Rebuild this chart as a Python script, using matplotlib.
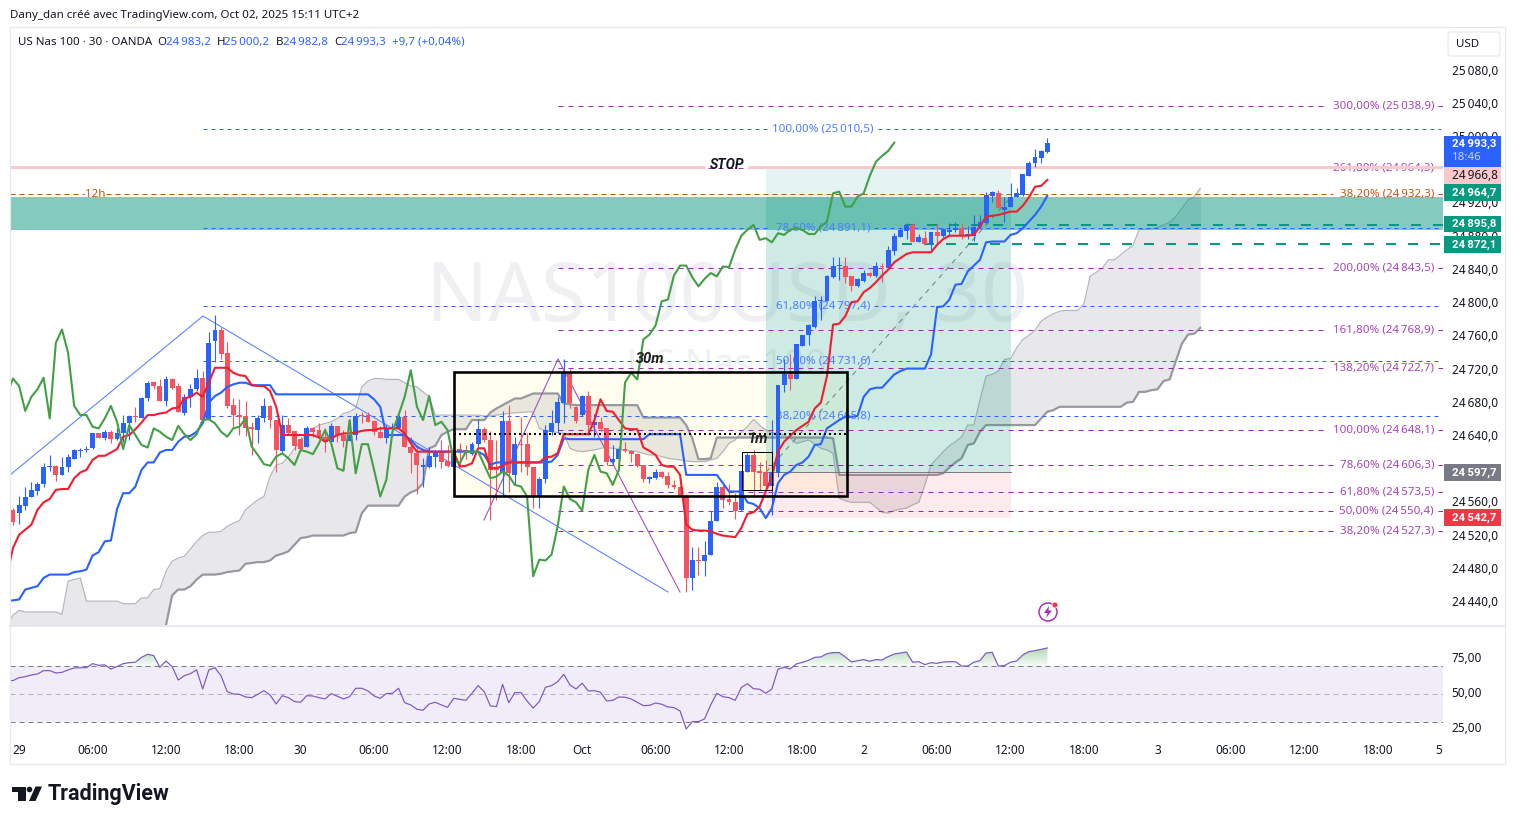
import numpy as np
import matplotlib
matplotlib.use('Agg')
import matplotlib.pyplot as plt
import matplotlib.transforms as mtrans
from matplotlib.patches import Rectangle, Circle, Polygon, FancyBboxPatch

plt.rcParams['font.family'] = ['Noto Sans', 'DejaVu Sans']
plt.rcParams['lines.scale_dashes'] = False

# 30 min candles
opens = [24550,24546,24555,24565,24573,24581,24601,24603,24592,24601,
         24611,24621,24622,24624,24642,24637,24644,24635,24642,24654,
         24663,24661,24684,24704,24699,24681,24708,24699,24667,24686,
         24695,24709,24658,24753,24767,24739,24676,24664,24663,24650,
         24646,24660,24675,24658,24621,24652,24645,24635,24625,24648,
         24646,24638,24632,24651,24640,24633,24640,24664,24664,24657,
         24644,24636,24648,24649,24662,24626,24618,24602,24602,24614,
         24620,24609,24602,24623,24622,24617,24629,24647,24634,24601,
         24594,24657,24592,24629,24629,24601,24566,24587,24644,24655,
         24679,24716,24674,24664,24687,24652,24656,24648,24607,24611,
         24623,24621,24617,24604,24587,24588,24596,24591,24580,24578,
         24566,24468,24490,24488,24495,24536,24577,24563,24559,24550,
         24596,24616,24597,24596,24579,24594,24700,24714,24707,24747,
         24760,24770,24801,24801,24830,24843,24843,24831,24819,24825,
         24835,24831,24843,24841,24862,24879,24886,24893,24873,24877,
         24870,24884,24880,24885,24887,24889,24881,24880,24890,24895,
         24928,24931,24911,24914,24927,24929,24952,24968,24974,24981]
highs = [24552,24566,24578,24584,24584,24606,24616,24604,24613,24617,
         24623,24624,24627,24643,24643,24646,24646,24648,24664,24664,
         24674,24686,24705,24705,24707,24711,24709,24703,24689,24701,
         24719,24717,24764,24784,24770,24752,24684,24683,24681,24656,
         24664,24684,24676,24658,24664,24660,24645,24638,24651,24650,
         24655,24648,24654,24651,24646,24658,24666,24668,24668,24658,
         24651,24652,24654,24664,24670,24638,24628,24612,24626,24622,
         24634,24628,24627,24631,24628,24632,24659,24650,24645,24634,
         24669,24676,24638,24662,24642,24602,24590,24652,24670,24686,
         24732,24720,24675,24688,24693,24665,24662,24649,24628,24626,
         24632,24622,24618,24604,24591,24599,24597,24596,24586,24579,
         24569,24505,24505,24512,24548,24583,24580,24581,24570,24597,
         24618,24622,24608,24610,24658,24700,24731,24737,24749,24761,
         24774,24807,24807,24833,24854,24854,24854,24832,24829,24839,
         24836,24848,24847,24867,24883,24889,24895,24895,24882,24886,
         24885,24895,24889,24895,24896,24895,24892,24905,24905,24932,
         24934,24935,24927,24943,24937,24954,24970,24984,24983,24998]
lows = [24532,24533,24550,24565,24568,24578,24597,24585,24592,24596,
        24611,24614,24619,24623,24637,24634,24630,24634,24632,24634,
        24656,24661,24681,24695,24681,24675,24695,24668,24664,24674,
        24693,24658,24658,24728,24732,24672,24650,24640,24639,24616,
        24630,24656,24649,24596,24617,24640,24622,24622,24625,24638,
        24636,24620,24632,24632,24625,24633,24634,24654,24656,24640,
        24636,24631,24638,24648,24625,24594,24569,24578,24600,24602,
        24600,24602,24589,24602,24611,24616,24626,24632,24538,24562,
        24568,24572,24580,24596,24592,24552,24552,24582,24640,24642,
        24655,24672,24654,24663,24640,24638,24645,24604,24604,24609,
        24619,24607,24602,24583,24582,24587,24588,24576,24575,24566,
        24451,24454,24472,24470,24495,24536,24552,24556,24539,24549,
        24596,24566,24574,24576,24544,24590,24692,24694,24707,24747,
        24748,24769,24779,24801,24829,24827,24823,24813,24818,24824,
        24830,24830,24824,24841,24857,24879,24876,24873,24872,24869,
        24863,24870,24878,24880,24885,24876,24876,24874,24890,24895,
        24920,24913,24896,24914,24927,24928,24952,24963,24968,24980]
closes = [24535,24556,24565,24574,24581,24601,24602,24592,24601,24613,
          24622,24622,24623,24642,24637,24644,24635,24642,24654,24663,
          24662,24685,24703,24699,24681,24707,24697,24668,24686,24695,
          24709,24658,24751,24767,24737,24675,24664,24662,24649,24647,
          24660,24675,24658,24622,24652,24643,24627,24623,24649,24644,
          24637,24632,24651,24640,24633,24640,24663,24663,24656,24644,
          24637,24648,24649,24662,24625,24618,24604,24603,24615,24620,
          24608,24603,24621,24619,24621,24629,24647,24634,24598,24598,
          24657,24594,24629,24628,24601,24566,24587,24646,24655,24680,
          24716,24679,24657,24687,24652,24656,24647,24607,24611,24623,
          24621,24617,24603,24587,24589,24596,24590,24580,24577,24566,
          24468,24490,24488,24496,24537,24577,24562,24559,24548,24597,
          24616,24595,24594,24579,24596,24700,24714,24707,24749,24761,
          24772,24801,24803,24832,24844,24844,24830,24819,24828,24835,
          24831,24843,24842,24863,24880,24887,24893,24873,24878,24870,
          24884,24880,24888,24886,24889,24880,24882,24891,24896,24929,
          24933,24913,24915,24927,24931,24954,24968,24975,24982,24991]

# ichimoku lines, these start one bar left of the first visible candle
tenkan = [24470,
          24504,24520,24526,24532,24550,24559,24563,24574,24575,24575,
          24588,24595,24598,24610,24615,24615,24619,24623,24638,24640,
          24647,24655,24664,24664,24666,24667,24672,24673,24684,24686,
          24691,24686,24703,24721,24721,24721,24715,24712,24711,24700,
          24699,24699,24693,24674,24640,24640,24640,24640,24640,24640,
          24637,24632,24636,24640,24642,24642,24643,24645,24646,24646,
          24648,24648,24648,24648,24642,24630,24620,24620,24620,24620,
          24620,24620,24620,24602,24603,24606,24624,24624,24600,24600,
          24603,24607,24607,24607,24607,24607,24607,24613,24614,24618,
          24641,24641,24641,24641,24641,24658,24683,24669,24668,24658,
          24648,24647,24647,24625,24621,24616,24604,24602,24602,24592,
          24532,24526,24525,24525,24524,24521,24519,24518,24517,24528,
          24545,24547,24554,24572,24590,24620,24632,24639,24646,24651,
          24656,24672,24679,24711,24773,24774,24783,24800,24801,24812,
          24817,24824,24832,24839,24848,24853,24858,24860,24860,24860,
          24860,24869,24876,24880,24880,24880,24880,24881,24891,24903,
          24904,24905,24907,24909,24909,24916,24926,24939,24940,24947]
kijun = [24440,
         24441,24442,24454,24456,24458,24468,24472,24472,24472,24472,
         24475,24476,24478,24495,24499,24512,24513,24551,24570,24570,
         24578,24598,24607,24607,24619,24622,24622,24632,24638,24639,
         24644,24654,24679,24687,24691,24698,24701,24703,24703,24700,
         24700,24700,24700,24689,24689,24689,24689,24689,24689,24689,
         24689,24689,24689,24689,24689,24689,24689,24689,24689,24683,
         24674,24640,24640,24640,24640,24634,24626,24622,24620,24620,
         24620,24620,24620,24620,24620,24620,24620,24616,24604,24607,
         24607,24607,24607,24607,24607,24607,24607,24607,24608,24616,
         24636,24635,24635,24635,24635,24635,24635,24635,24635,24635,
         24635,24635,24635,24635,24641,24641,24641,24641,24641,24641,
         24592,24592,24592,24592,24592,24592,24582,24572,24572,24572,
         24559,24557,24552,24540,24552,24582,24592,24596,24604,24607,
         24614,24628,24629,24648,24653,24658,24662,24662,24663,24686,
         24695,24697,24697,24705,24713,24717,24720,24720,24720,24720,
         24737,24794,24795,24803,24821,24822,24837,24844,24851,24872,
         24873,24873,24873,24881,24883,24889,24897,24905,24915,24928]
chikou = [24690,
          24708,24699,24669,24686,24695,24709,24660,24751,24767,24739,
          24675,24664,24664,24650,24648,24660,24675,24656,24623,24652,
          24640,24628,24625,24648,24644,24638,24634,24651,24641,24634,
          24641,24658,24659,24654,24644,24638,24648,24650,24660,24626,
          24616,24605,24603,24614,24618,24612,24604,24622,24620,24617,
          24630,24646,24630,24600,24597,24658,24594,24629,24629,24598,
          24566,24586,24644,24664,24686,24718,24674,24658,24687,24652,
          24656,24646,24610,24606,24620,24620,24620,24604,24588,24590,
          24596,24591,24580,24578,24566,24470,24490,24489,24496,24530,
          24578,24563,24559,24549,24598,24616,24596,24594,24580,24598,
          24703,24715,24707,24755,24761,24772,24801,24803,24832,24844,
          24844,24830,24819,24828,24835,24831,24843,24842,24863,24880,
          24887,24893,24875,24877,24872,24883,24881,24887,24889,24887,
          24882,24882,24891,24897,24931,24933,24915,24915,24927,24931,
          24952,24969,24976,24982,24992]
span_a = [24411,
          24423,24429,24427,24427,24427,24427,24427,24427,24424,24464,
          24466,24468,24440,24440,24440,24440,24440,24440,24437,24437,
          24437,24444,24444,24454,24455,24476,24488,24492,24494,24503,
          24512,24519,24523,24523,24524,24530,24534,24537,24550,24556,
          24562,24566,24590,24604,24606,24614,24624,24632,24642,24648,
          24652,24654,24656,24660,24666,24668,24672,24698,24705,24708,
          24708,24707,24707,24707,24703,24699,24698,24692,24686,24664,
          24664,24664,24664,24664,24664,24664,24664,24663,24663,24664,
          24665,24666,24667,24667,24668,24668,24648,24645,24644,24643,
          24642,24624,24621,24620,24621,24622,24624,24625,24624,24623,
          24622,24621,24620,24618,24616,24616,24614,24612,24611,24610,
          24609,24608,24608,24608,24610,24612,24620,24630,24634,24644,
          24650,24659,24652,24646,24643,24642,24640,24636,24630,24632,
          24634,24629,24624,24622,24618,24564,24561,24559,24559,24559,
          24559,24553,24547,24546,24549,24551,24552,24556,24559,24580,
          24604,24612,24620,24627,24632,24638,24652,24652,24682,24711,
          24713,24717,24731,24732,24745,24755,24760,24766,24777,24782,
          24786,24789,24790,24790,24790,24798,24831,24836,24841,24851,
          24851,24857,24863,24868,24887,24888,24888,24890,24893,24896,
          24903,24913,24923,24927,24937]
span_b = [24400,
          24400,24400,24400,24400,24400,24400,24400,24400,24400,24400,
          24400,24400,24400,24400,24400,24400,24400,24400,24400,24400,
          24400,24400,24400,24400,24400,24411,24447,24454,24454,24458,
          24466,24472,24472,24472,24473,24475,24476,24477,24485,24486,
          24487,24487,24489,24495,24497,24500,24508,24516,24517,24519,
          24519,24519,24519,24519,24519,24522,24523,24546,24555,24555,
          24555,24555,24555,24555,24566,24571,24574,24582,24624,24627,
          24640,24644,24647,24647,24647,24658,24658,24658,24667,24672,
          24676,24680,24684,24684,24687,24690,24690,24690,24690,24690,
          24678,24677,24676,24676,24676,24676,24676,24676,24676,24676,
          24676,24676,24676,24661,24661,24661,24661,24661,24661,24661,
          24652,24636,24611,24611,24612,24637,24637,24637,24637,24637,
          24637,24637,24637,24637,24637,24637,24637,24637,24637,24637,
          24637,24637,24637,24637,24636,24592,24592,24592,24592,24592,
          24592,24592,24592,24592,24592,24592,24592,24592,24592,24592,
          24592,24592,24594,24601,24607,24612,24628,24630,24644,24652,
          24652,24652,24652,24652,24652,24652,24652,24652,24660,24668,
          24670,24674,24674,24674,24674,24674,24674,24674,24674,24674,
          24674,24674,24679,24680,24692,24692,24694,24695,24705,24707,
          24729,24750,24761,24762,24769]
rsi = [60.0,
       59.8,61.9,62.6,63.8,64.5,66.9,66.9,65.2,65.7,67.4,
       68.8,69.0,69.0,71.9,70.7,71.0,68.1,69.8,71.9,72.6,
       72.9,76.4,78.6,77.6,69.3,73.8,69.8,60.2,63.3,64.8,
       67.4,53.8,67.4,69.0,63.1,51.9,50.2,50.0,48.1,47.6,
       50.0,52.6,49.5,43.1,49.0,47.6,44.8,44.3,49.0,48.8,
       47.6,46.7,50.5,48.6,46.7,48.3,54.3,54.3,52.4,48.8,
       47.1,50.5,50.7,54.3,44.0,42.4,39.3,38.6,43.1,44.3,
       42.4,40.7,47.1,46.4,45.7,50.7,56.2,51.9,41.7,41.2,
       57.1,44.0,51.2,51.2,45.2,40.2,44.8,55.0,56.2,59.0,
       64.3,56.7,53.8,57.9,52.4,52.6,51.4,45.2,45.7,48.1,
       47.9,46.7,44.3,41.9,42.1,43.8,42.9,41.0,40.5,38.1,
       25.2,30.5,30.5,32.4,42.4,50.7,48.3,47.6,45.7,54.8,
       57.6,54.0,53.6,50.7,53.8,67.9,69.3,68.1,71.7,72.9,
       74.3,76.4,76.7,79.0,79.8,79.8,76.7,73.1,74.0,74.8,
       73.6,74.8,74.5,76.9,78.8,79.5,80.2,72.9,73.3,71.2,
       72.6,72.1,73.1,73.3,73.3,70.2,70.2,72.9,74.0,79.5,
       80.0,70.2,70.5,72.9,73.8,78.1,80.5,81.2,82.1,83.1]

# fibonacci levels
fib_blue = [25010.5, 24891.1, 24797.4, 24731.6, 24665.8]
fib_blue_pct = ['100,00%', '78,60%', '61,80%', '50,00%', '38,20%']
fib_purple = [25038.9, 24964.3, 24843.5, 24768.9, 24722.7, 24648.1, 24606.3, 24573.5, 24550.4, 24527.3]
fib_purple_pct = ['300,00%', '261,80%', '200,00%', '161,80%', '138,20%', '100,00%', '78,60%', '61,80%', '50,00%', '38,20%']
fib_orange = 24932.3
stop_line = 24965.5
zone_top, zone_bottom = 24929.0, 24889.7
teal_levels = [24895.8, 24872.1]
entry, stop_price = 24597.7, 24542.7

price_ticks = list(range(24440, 25081, 40))
rsi_ticks = [25, 50, 75]
time_ticks = [1, 13, 25, 37, 47, 59, 71, 83, 93, 105, 117, 129, 139, 151, 163, 175, 187, 199, 211, 223, 233]
time_labels = ['29', '06:00', '12:00', '18:00', '30', '06:00', '12:00', '18:00', 'Oct', '06:00', '12:00', '18:00',
               '2', '06:00', '12:00', '18:00', '3', '06:00', '12:00', '18:00', '5']

BLUE = '#2962ff'
RED = '#f7525f'
TEAL = '#089981'
PURPLE = '#9c27b0'
ORANGE = '#b65c0f'
GREY = '#787b86'
TXT = '#131722'

# prices were read against the axis label centres, which sit 2px above the real tick
READ_SHIFT = 2.4
opens, highs, lows, closes = [np.array(a) + READ_SHIFT for a in (opens, highs, lows, closes)]
tenkan, kijun, chikou = [np.array(a) + READ_SHIFT for a in (tenkan, kijun, chikou)]
span_a, span_b = np.array(span_a) + READ_SHIFT, np.array(span_b) + READ_SHIFT
rsi = np.array(rsi)


def px(v):
    return v * 0.72


def dash(on, off):
    return (0, (px(on), px(off)))


def kx(x):
    # pixel column -> bar index
    return (x - 13) / 6.12


def py(y):
    # pixel row -> price
    return 24843.5 + (268 - y) / 0.8306


def money(p):
    s = f'{p:.1f}'.replace('.', ',')
    return s[:2] + '\u2009' + s[2:]


fig = plt.figure(figsize=(15.15, 8.24), dpi=100, facecolor='white')
W, H = 1515.0, 824.0
ax = fig.add_axes([10 / W, (H - 625) / H, 1433 / W, 597 / H])
ax_rsi = fig.add_axes([10 / W, (H - 737) / H, 1433 / W, 111 / H])
ov = fig.add_axes([0, 0, 1, 1], zorder=10)
ov.set_xlim(0, W)
ov.set_ylim(H, 0)
ov.axis('off')
ov.patch.set_alpha(0)

ax.set_xlim(kx(10), kx(1443))
ax.set_ylim(py(625), py(28))
ax_rsi.set_xlim(kx(10), kx(1443))
ax_rsi.set_ylim(50 - 42.7 / 1.4, 50 + 68.3 / 1.4)

# watermark
ax.text(kx(727), py(300), 'NAS100USD, 30', fontsize=59, color='#f0f0f2', ha='center', va='center', zorder=0.5)
ax.text(kx(727), py(366), 'US Nas 100', fontsize=27, color='#f0f0f2', ha='center', va='center', zorder=0.5)

# boxes under the candles
ax.add_patch(Rectangle((kx(454), py(496)), kx(847) - kx(454), py(372) - py(496), fc='#fffde7', ec='none', alpha=0.75, zorder=1))
ax.add_patch(Rectangle((kx(742), py(490)), kx(772) - kx(742), py(452) - py(490), fc='#fff59d', ec='none', alpha=0.25, zorder=1.5))

# cloud
k_cloud = np.arange(len(span_a)) - 1
ax.fill_between(k_cloud, span_a, span_b, color=GREY, alpha=0.17, lw=0, zorder=2)
ax.plot(k_cloud, span_a, color='#b2b5be', lw=px(1.2), zorder=2.1)
ax.plot(k_cloud, span_b, color='#95989f', lw=px(2.2), zorder=2.1)

# long position
pos_l, pos_r = kx(766), kx(1011)
ax.add_patch(Rectangle((pos_l, py(197)), pos_r - pos_l, py(167) - py(197), fc=TEAL, alpha=0.1, ec='none', zorder=2.5))
ax.add_patch(Rectangle((pos_l, entry), pos_r - pos_l, py(197) - entry, fc=TEAL, alpha=0.2, ec='none', zorder=2.5))
ax.add_patch(Rectangle((pos_l, stop_price), pos_r - pos_l, entry - stop_price, fc='#f23645', alpha=0.1, ec='none', zorder=2.5))
ax.plot([pos_l, pos_r], [entry, entry], color=GREY, lw=px(1), zorder=2.6)
ax.plot([pos_l, pos_r], [entry, zone_top], color=GREY, lw=px(1), ls=dash(5, 5), zorder=2.6)

# demand zone
ax.axhspan(zone_bottom, zone_top, fc=TEAL, alpha=0.5, ec='none', zorder=3)

# fib levels, the dashes stop where the label sits
for level, pct in zip(fib_blue, fib_blue_pct):
    gap = (768, 878) if pct == '100,00%' else (771, 874)
    ax.hlines(level, kx(203), kx(gap[0]), color=BLUE, lw=px(1), ls=dash(4, 4), zorder=3.2)
    ax.hlines(level, kx(gap[1]), kx(1441), color=BLUE, lw=px(1), ls=dash(4, 4), zorder=3.2)
    ax.text(kx(823), level, f'{pct} ({money(level)})', color='#4a7dff', fontsize=8.3, ha='center', va='center', zorder=3.3)
for level, pct in zip(fib_purple, fib_purple_pct):
    left = 1327 if len(pct) == 7 else 1333
    ax.hlines(level, kx(558), kx(left), color=PURPLE, lw=px(1), ls=dash(5, 5), zorder=3.2)
    ax.hlines(level, kx(1438), kx(1443), color=PURPLE, lw=px(1), zorder=3.2)
    ax.text(kx(1434), level, f'{pct} ({money(level)})', color='#a843bb', fontsize=8.3, ha='right', va='center', zorder=3.3)
ax.hlines(fib_orange, kx(10), kx(84), color=ORANGE, lw=px(1), ls=dash(5, 4), zorder=3.2)
ax.hlines(fib_orange, kx(106), kx(1333), color=ORANGE, lw=px(1), ls=dash(5, 4), zorder=3.2)
ax.hlines(fib_orange, kx(1438), kx(1443), color=ORANGE, lw=px(1), zorder=3.2)
ax.text(kx(1434), fib_orange, f'38,20% ({money(fib_orange)})', color=ORANGE, fontsize=8.3, ha='right', va='center', zorder=3.3)
ax.text(kx(95), fib_orange, '12h', color=ORANGE, fontsize=8.4, ha='center', va='center', zorder=3.3)

ax.hlines(stop_line, kx(10), kx(705), color='#f9c9ce', lw=px(3), zorder=3.4)
ax.hlines(stop_line, kx(748), kx(1443), color='#f9c9ce', lw=px(3), zorder=3.4)
for level, start in zip(teal_levels, (905, 902)):
    ax.hlines(level, kx(start), kx(1443), color=TEAL, lw=px(2), ls=dash(10, 12), zorder=3.5)

# zigzags
ax.plot([kx(10), kx(203), kx(668)], [py(475), py(316), py(592)], color='#5b85ff', lw=px(1.1), zorder=3.6)
ax.plot([kx(484), kx(558), kx(680)], [py(520), py(359), py(592)], color='#a04fc0', lw=px(1.1), zorder=3.6)

# candles
k = np.arange(len(closes))
up = closes >= opens
colors = np.where(up, BLUE, RED)
ax.vlines(k, lows, highs, colors=colors, lw=px(1.1), zorder=5)
ax.bar(k, np.maximum(np.abs(closes - opens), 1.4), bottom=np.minimum(opens, closes), width=0.8, color=colors, lw=0, zorder=5)

# ichimoku lines
ax.plot(np.arange(len(kijun)) - 1, kijun, color=BLUE, lw=px(2.1), zorder=6, solid_joinstyle='round')
ax.plot(np.arange(len(tenkan)) - 1, tenkan, color='#f01e32', lw=px(2.1), zorder=6.1, solid_joinstyle='round')
ax.plot(np.arange(len(chikou)) - 1, chikou, color='#43a047', lw=px(2.1), zorder=6.2, solid_joinstyle='round')

# boxes on top
ax.add_patch(Rectangle((kx(454), py(496)), kx(847) - kx(454), py(372) - py(496), fc='none', ec='black', lw=px(2.6), zorder=7))
ax.add_patch(Rectangle((kx(742), py(490)), kx(772) - kx(742), py(452) - py(490), fc='none', ec='black', lw=px(1), zorder=7))
ax.hlines(py(434), kx(454), kx(847), color='black', lw=px(2), ls=(0, (px(2), px(3))), zorder=7)

ax.text(kx(650), py(359), '30m', fontsize=10.5, family='Roboto', style='italic', fontweight='bold', color='#222222', ha='center', va='center', zorder=8)
ax.text(kx(758), py(439), '1m', fontsize=10.5, family='Roboto', style='italic', fontweight='bold', color='#222222', ha='center', va='center', zorder=8)
ax.text(kx(727), py(165), 'STOP', fontsize=10, family='Roboto', style='italic', fontweight='bold', color='#131722', ha='center', va='center', zorder=8)

# price scale
ax.yaxis.tick_right()
ax.set_yticks(price_ticks)
ax.set_yticklabels([money(p) for p in price_ticks], fontsize=8.5, color=TXT)
ax.tick_params(axis='y', length=0, pad=6.3)
ax.set_xticks([])
up_2px = mtrans.ScaledTranslation(0, 2 / 100, fig.dpi_scale_trans)
for lab in ax.get_yticklabels():
    lab.set_transform(lab.get_transform() + up_2px)
for sp in ax.spines.values():
    sp.set_visible(False)

# rsi pane
ax_rsi.axhspan(30, 70, fc='#7e57c2', alpha=0.1, ec='none', zorder=1)
for level in (70, 50, 30):
    ax_rsi.axhline(level, color=GREY if level != 50 else '#b2b0bb', lw=px(1), ls=dash(5, 4), zorder=2)
k_rsi = np.arange(len(rsi)) - 1
for level in np.arange(70, 84, 1.5):
    ax_rsi.fill_between(k_rsi, level, rsi, where=rsi > level, interpolate=True, color='#4caf50', alpha=0.05, lw=0, zorder=2.5)
ax_rsi.plot(k_rsi, rsi, color='#7e57c2', lw=px(1.2), zorder=3)
ax_rsi.yaxis.tick_right()
ax_rsi.set_yticks(rsi_ticks)
ax_rsi.set_yticklabels([f'{v},00' for v in rsi_ticks], fontsize=8.5, color=TXT)
ax_rsi.tick_params(axis='y', length=0, pad=6.3)
ax_rsi.set_xticks(time_ticks)
ax_rsi.set_xticklabels(time_labels, fontsize=8.5, color=TXT)
ax_rsi.tick_params(axis='x', length=0, pad=5)
for lab in ax_rsi.get_yticklabels():
    lab.set_transform(lab.get_transform() + up_2px)
for sp in ax_rsi.spines.values():
    sp.set_visible(False)

# frame
ov.add_patch(Rectangle((10, 27), 1495, 737, fc='none', ec='#e6e8ee', lw=px(1.2)))
ov.plot([10, 1505], [625.5, 625.5], color='#e0e3eb', lw=px(1.5))

# header
ov.text(10, 15, 'Dany_dan créé avec TradingView.com, Oct 02, 2025 15:11 UTC+2', fontsize=8.3, color=TXT, va='center')
ov.text(18, 42, 'US Nas 100 · 30 · OANDA', fontsize=8.3, color=TXT, va='center')
for x, s in zip((157, 217, 276, 334), 'OHBC'):
    ov.text(x, 42, s, fontsize=8.3, color=TXT, va='center')
for x, s in zip((166, 224, 283, 341, 392),
                (money(24983.2), money(25000.2), money(24982.8), money(24993.3), '+9,7 (+0,04%)')):
    ov.text(x, 42, s, fontsize=8.3, color=BLUE, va='center')

# USD button and last price tags
ov.add_patch(FancyBboxPatch((1448, 32), 52, 24, boxstyle='round,pad=0,rounding_size=3', fc='white', ec='#e6e8ee', lw=px(1.2)))
ov.text(1456, 44.5, 'USD', fontsize=8.3, color=TXT, va='center')
tags = [(136, 167, BLUE, None, 'white'),
        (167, 184, '#fbc9cc', '24\u2009966,8', TXT),
        (184, 201, TEAL, '24\u2009964,7', 'white'),
        (216, 232, TEAL, '24\u2009895,8', 'white'),
        (236, 253, TEAL, '24\u2009872,1', 'white'),
        (464, 481, GREY, '24\u2009597,7', 'white'),
        (509, 526, '#f23645', '24\u2009542,7', 'white')]
for top, bottom, col, text, tcol in tags:
    ov.add_patch(Rectangle((1444, top), 57, bottom - top, fc=col, ec='none'))
    if text:
        if tcol == TXT:
            ov.text(1452, (top + bottom) / 2, text, fontsize=8.5, color=tcol, va='center')
        else:
            ov.text(1452, (top + bottom) / 2, text, fontsize=8.2, family='Roboto', fontweight='bold', color=tcol, va='center')
ov.text(1452, 144, '24\u2009993,3', fontsize=8.2, family='Roboto', fontweight='bold', color='white', va='center')
ov.text(1452, 157.5, '18:46', fontsize=8.3, color='#c9d7ff', va='center')

# lightning marker
ov.add_patch(Circle((1048, 612), 9, fc='white', ec='#a62fb5', lw=px(1.5)))
ov.add_patch(Polygon([(1049, 606), (1044, 613), (1047.5, 613), (1046, 618), (1052, 610.5), (1048.5, 610.5)], fc='#a62fb5', ec='none'))
ov.add_patch(Circle((1055, 605), 3, fc='#f23645', ec='white', lw=px(0.8)))

# TradingView logo
ov.add_patch(Polygon([(11.5, 786.5), (25.5, 786.5), (25.5, 801), (18, 801), (18, 791.5), (11.5, 791.5)], fc='#131722', ec='none'))
ov.add_patch(Circle((29.5, 789.5), 2.8, fc='#131722', ec='none'))
ov.add_patch(Polygon([(35.5, 786.5), (42, 786.5), (35.5, 801), (29, 801)], fc='#131722', ec='none'))
ov.text(48, 794, 'TradingView', fontsize=15.5, family='Roboto', fontweight='bold', color='#131722', va='center')

plt.savefig('out.png', dpi=100, facecolor='white')
